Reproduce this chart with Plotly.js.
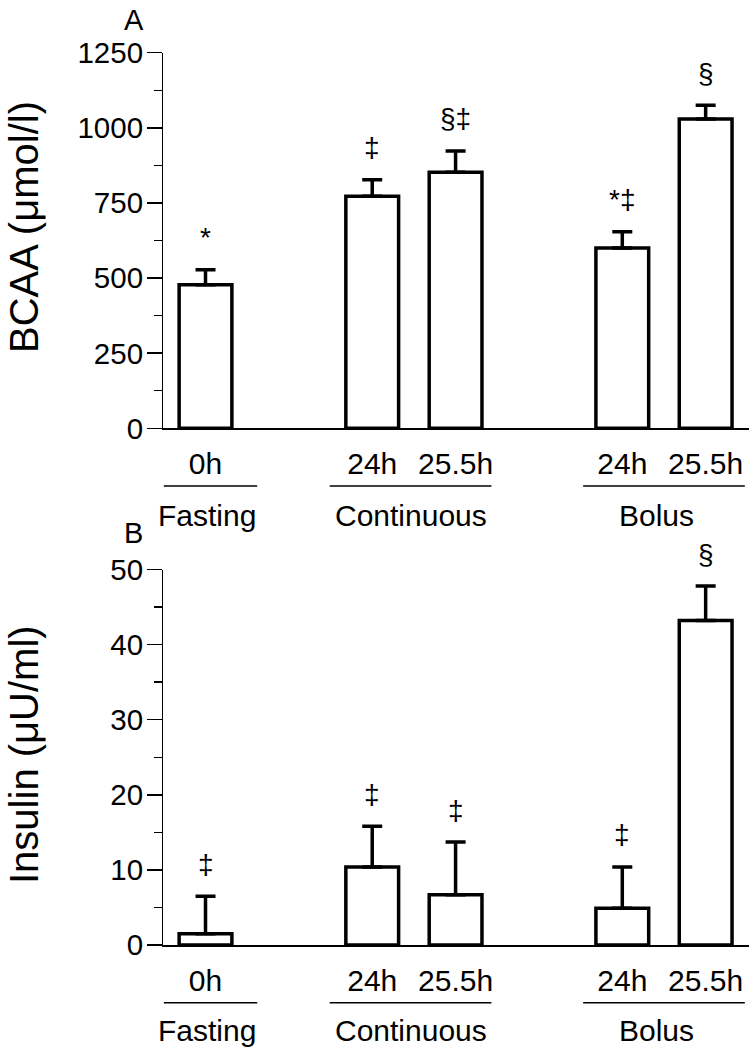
<!DOCTYPE html>
<html>
<head>
<meta charset="utf-8">
<script src="https://cdn.plot.ly/plotly-3.0.1.min.js"></script>
<style>
html,body{margin:0;padding:0;background:#fff;}
#chart{width:749px;height:1049px;}
</style>
</head>
<body>
<div id="chart"></div>
<script>
// ---- data ----
const positions = [0, 2, 3, 5, 6];
const timeLabels = ['0h', '24h', '25.5h', '24h', '25.5h'];
const groupNames = ['Fasting', 'Continuous', 'Bolus'];
const bcaaMean = [478, 772, 852, 600, 1029];
const bcaaSem = [50, 55, 71, 54, 46];
const bcaaMarks = ['*', '\u2021', '\u00a7\u2021', '*\u2021', '\u00a7'];
const insulinMean = [1.5, 10.4, 6.7, 4.9, 43.2];
const insulinSem = [5.0, 5.4, 7.0, 5.5, 4.6];
const insulinMarks = ['\u2021', '\u2021', '\u2021', '\u2021', '\u00a7'];
const bcaaTicks = [0, 250, 500, 750, 1000, 1250];
const insulinTicks = [0, 10, 20, 30, 40, 50];

// ---- layout helpers ----
const FONT = 'Liberation Sans, Arial, Helvetica, sans-serif';
const H = 1049;
const py = px => 1 - px / H;           // pixel row -> paper y
const groupSpans = [[-0.5, 0.62], [1.49, 3.43], [4.53, 6.47]];
const groupCenters = [0.02, 2.47, 5.41];

function barTrace(mean, sem, xa, ya) {
  return {
    type: 'bar', x: positions, y: mean, xaxis: xa, yaxis: ya,
    width: 0.633,
    marker: {color: '#ffffff', line: {color: '#000000', width: 3.5}},
    error_y: {type: 'data', symmetric: false, array: sem,
              arrayminus: sem.map(() => 0), color: '#000000',
              thickness: 3.5, width: 10},
    hoverinfo: 'skip', showlegend: false
  };
}

const data = [
  barTrace(bcaaMean, bcaaSem, 'x', 'y'),
  barTrace(insulinMean, insulinSem, 'x2', 'y2')
];

function xAxis(anchor) {
  return {
    anchor: anchor, domain: [0, 1], range: [-0.51, 6.52],
    showline: true, linecolor: '#000', linewidth: 1.5,
    showgrid: false, zeroline: false,
    tickmode: 'array', tickvals: positions, ticktext: timeLabels,
    ticks: '', ticklabelstandoff: 8,
    tickfont: {family: FONT, size: 30, color: '#000'}, fixedrange: true
  };
}
function yAxis(anchor, domain, ticks, minorStep) {
  return {
    anchor: anchor, domain: domain,
    range: [ticks[0], ticks[ticks.length - 1]],
    showline: true, linecolor: '#000', linewidth: 1.5,
    showgrid: false, zeroline: false,
    tickmode: 'array', tickvals: ticks, ticktext: ticks.map(String),
    ticks: 'outside', ticklen: 14.5, tickwidth: 1.5, tickcolor: '#000',
    ticklabelstandoff: -2,
    minor: {tickmode: 'linear', tick0: 0, dtick: minorStep, ticks: 'outside',
            ticklen: 8, tickwidth: 1.5, tickcolor: '#000', showgrid: false},
    tickfont: {family: FONT, size: 29.5, color: '#000'}, fixedrange: true
  };
}

const annotations = [];
const shapes = [];

function markAnnots(mean, sem, marks, xa, ya) {
  positions.forEach((p, i) => {
    annotations.push({
      xref: xa, yref: ya, x: p, y: mean[i] + sem[i],
      text: marks[i], showarrow: false, yanchor: 'middle', yshift: 32,
      font: {family: FONT, size: 28, color: '#000'}
    });
  });
}
markAnnots(bcaaMean, bcaaSem, bcaaMarks, 'x', 'y');
markAnnots(insulinMean, insulinSem, insulinMarks, 'x2', 'y2');

function groupRow(xa, lineY, labelY) {
  groupNames.forEach((g, i) => {
    shapes.push({type: 'line', xref: xa, yref: 'paper',
      x0: groupSpans[i][0], x1: groupSpans[i][1], y0: py(lineY), y1: py(lineY),
      line: {color: '#000', width: 1.5}});
    annotations.push({xref: xa, yref: 'paper', x: groupCenters[i], y: py(labelY),
      text: g, showarrow: false, yanchor: 'middle',
      font: {family: FONT, size: 30, color: '#000'}});
  });
}
groupRow('x', 486, 515);
groupRow('x2', 1002.7, 1030);

// y-axis titles and panel letters
const PL = 163, PW = 586;
const pxx = px => (px - PL) / PW;
annotations.push({xref: 'paper', yref: 'paper', x: pxx(24), y: py(227),
  text: 'BCAA (\u03bcmol/l)', textangle: -90, showarrow: false,
  xanchor: 'center', yanchor: 'middle', font: {family: FONT, size: 40, color: '#000'}});
annotations.push({xref: 'paper', yref: 'paper', x: pxx(24), y: py(755),
  text: 'Insulin (\u03bcU/ml)', textangle: -90, showarrow: false,
  xanchor: 'center', yanchor: 'middle', font: {family: FONT, size: 40, color: '#000'}});
annotations.push({xref: 'paper', yref: 'paper', x: pxx(134), y: py(20),
  text: 'A', showarrow: false, xanchor: 'center', yanchor: 'middle',
  font: {family: FONT, size: 29, color: '#000'}});
annotations.push({xref: 'paper', yref: 'paper', x: pxx(133), y: py(532.5),
  text: 'B', showarrow: false, xanchor: 'center', yanchor: 'middle',
  font: {family: FONT, size: 29, color: '#000'}});

const layout = {
  width: 749, height: 1049,
  margin: {l: PL, r: 0, t: 0, b: 0, pad: 0},
  paper_bgcolor: '#fff', plot_bgcolor: '#fff',
  showlegend: false, bargap: 0,
  xaxis: xAxis('y'),
  yaxis: yAxis('x', [py(428.3), py(52.7)], bcaaTicks, 125),
  xaxis2: xAxis('y2'),
  yaxis2: yAxis('x2', [py(945), py(569.5)], insulinTicks, 5),
  annotations: annotations,
  shapes: shapes,
  font: {family: FONT, color: '#000'}
};

Plotly.newPlot('chart', data, layout, {staticPlot: true, displayModeBar: false});
</script>
</body>
</html>
